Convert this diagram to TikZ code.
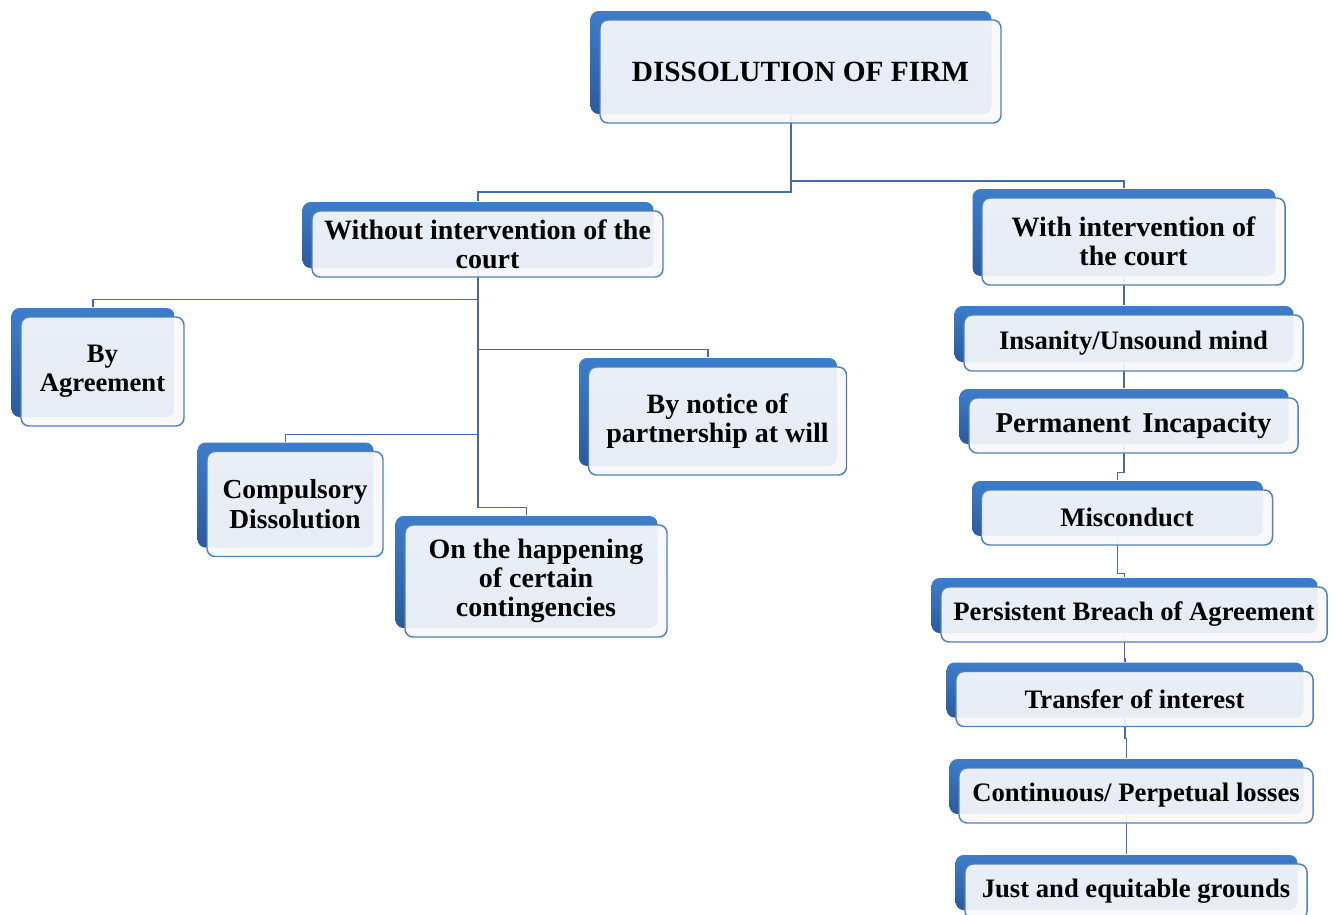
\documentclass[tikz,border=0pt]{standalone}
\usepackage{fontspec}
\setmainfont{Liberation Serif}
\usetikzlibrary{shadows,backgrounds}

\definecolor{backblue}{RGB}{61,125,202}
\definecolor{backdark}{RGB}{44,90,156}
\definecolor{frontline}{RGB}{79,129,189}
\definecolor{frontfill}{RGB}{248,249,252}
\definecolor{linkblue}{RGB}{68,108,168}

\tikzset{
  box/.style={draw=frontline, line width=1.1pt, rounded corners=6pt,
    fill=frontfill, fill opacity=0.92, text opacity=1, align=center,
    inner sep=0pt, font=\fontsize{20}{21.5}\selectfont\bfseries,
    copy shadow={shadow xshift=-7.1pt, shadow yshift=6.75pt, draw=none,
      fill opacity=1, top color=backblue, bottom color=backdark}},
  bigtext/.style={font=\fontsize{21}{22}\selectfont\bfseries},
  back/.style={shift={(-9.5,-9)}},
  link/.style={draw=linkblue, line width=1.1pt},
}

\begin{document}
\begin{tikzpicture}[x=0.75pt, y=-0.75pt]
  \useasboundingbox (0,0) rectangle (1337,914);
  % root
  \node[box, minimum width=300.75pt, minimum height=77.25pt,
        font=\fontsize{22}{24}\selectfont\bfseries] (root) at (800.5,71.5) {DISSOLUTION OF FIRM};
  % two branches
  \node[box, bigtext, minimum width=263.25pt, minimum height=49.5pt] (without) at (487.5,244) {Without intervention of the\\court};
  \node[box, bigtext, minimum width=227.25pt, minimum height=65.25pt] (with) at (1133.5,241.5) {With intervention of\\the court};
  % without the court
  \node[box, minimum width=122.25pt, minimum height=81.75pt] (agree) at (102.5,371.5) {By\\Agreement};
  \node[box, bigtext, minimum width=193.5pt, minimum height=81pt] (notice) at (717.5,421) {By notice of\\partnership at will};
  \node[box, minimum width=132pt, minimum height=78.75pt, font=\fontsize{20.6}{22}\selectfont\bfseries] (compulsory) at (295,504) {Compulsory\\Dissolution};
  \node[box, bigtext, minimum width=196.5pt, minimum height=84pt] (happening) at (536,581) {On the happening\\of certain\\contingencies};
  % with the court
  \node[box, minimum width=254.25pt, minimum height=42pt] (insanity) at (1133.5,343) {Insanity/Unsound mind};
  \node[box, minimum width=246.75pt, minimum height=41.25pt, font=\fontsize{21.5}{23}\selectfont\bfseries] (incapacity) at (1133.5,425.5) {Permanent\hspace{0.4em}Incapacity};
  \node[box, minimum width=218.25pt, minimum height=41.25pt] (misconduct) at (1127,517.5) {Misconduct};
  \node[box, minimum width=289.5pt, minimum height=41.25pt] (breach) at (1134,614.5) {Persistent Breach of Agreement};
  \node[box, minimum width=267.75pt, minimum height=41.25pt] (transfer) at (1134.5,699) {Transfer of interest};
  \node[box, minimum width=265.5pt, minimum height=41.25pt] (losses) at (1136,795.5) {Continuous/ Perpetual losses};
  \node[box, minimum width=256.5pt, minimum height=41.25pt] (grounds) at (1136,891.5) {Just and equitable grounds};

  \begin{pgfonlayer}{background}
    % root to branches
    \draw[link, line width=1.4pt] ([back]root.south) -- ++(0,77.5) -| ([back]without.north);
    \draw[link, line width=1.4pt] ([back]root.south) -- ++(0,66.5) -| ([back]with.north);
    % left tree
    \foreach \b/\d in {agree/31, notice/81, compulsory/166, happening/239}
      \draw[link] ([back]without.south) -- ++(0,\d) -| ([back]\b.north);
    % right chain
    \foreach \a/\b/\d in {with/insanity/15, insanity/incapacity/13, incapacity/misconduct/28,
                          misconduct/breach/37, breach/transfer/25, transfer/losses/20, losses/grounds/20}
      \draw[link] ([back]\a.south) -- ++(0,\d) -| ([back]\b.north);
  \end{pgfonlayer}
\end{tikzpicture}
\end{document}
